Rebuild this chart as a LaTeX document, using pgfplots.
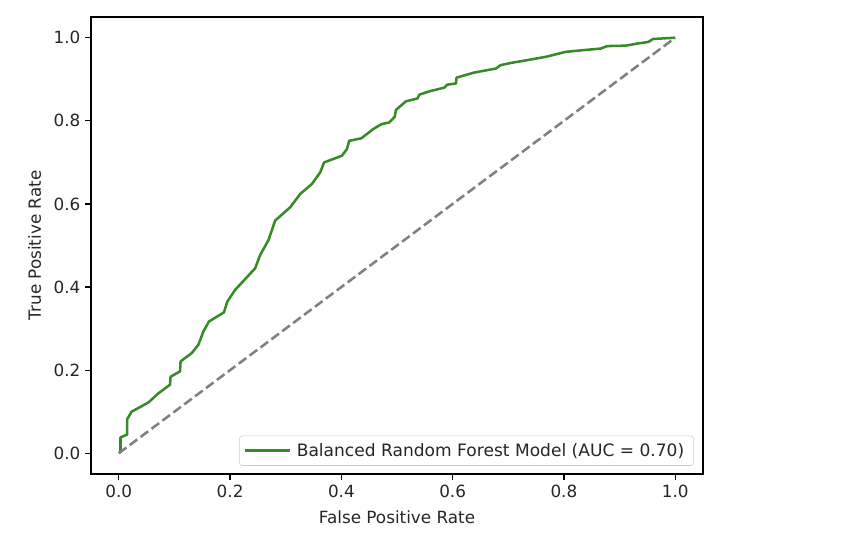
\documentclass[border=0pt]{standalone}
\usepackage{pgfplots}
\pgfplotsset{compat=1.18}
\usepackage{fontspec}
\setmainfont{DejaVu Sans}
\definecolor{rocgreen}{RGB}{55,138,40}
\definecolor{txtgray}{RGB}{38,38,38}

\begin{document}
\begin{tikzpicture}
\useasboundingbox (-68.25pt,-58.5pt) rectangle (579.75pt,355.5pt);
\begin{axis}[
  at={(0,0)}, anchor=south west,
  scale only axis,
  width=459pt, height=342.75pt,
  xmin=-0.05, xmax=1.05,
  ymin=-0.05, ymax=1.05,
  xtick={0,0.2,...,1.0},
  ytick={0,0.2,...,1.0},
  xticklabel style={/pgf/number format/.cd,fixed,fixed zerofill,precision=1},
  yticklabel style={/pgf/number format/.cd,fixed,fixed zerofill,precision=1},
  /pgf/number format/assume math mode=true,
  tick align=outside,
  tick pos=left,
  major tick length=4.5pt,
  tick style={black, line width=0.9pt},
  axis line style={black, line width=0.9pt},
  ticklabel style={font=\fontsize{12.6}{14}\selectfont, text=txtgray},
  xlabel={False Positive Rate},
  ylabel={True Positive Rate},
  label style={font=\fontsize{12.6}{14}\selectfont, text=txtgray},
  xlabel style={yshift=-3pt},
  ylabel style={yshift=2.5pt},
  legend style={font=\fontsize{12.8}{14}\selectfont, text=txtgray,
    draw=black!20, rounded corners=2pt, fill=white, fill opacity=0.8, text opacity=1,
    at={(0.985,0.018)}, anchor=south east,
    inner xsep=3pt, inner ysep=3.5pt},
  legend cell align=left,
  legend image code/.code={\draw[#1, line width=1.9pt] (0cm,0cm) -- (0.98cm,0cm);
    \path (0cm,0cm) -- (1.2cm,0cm);},
  legend style={nodes={inner xsep=4pt}},
]
\addplot[rocgreen, line width=1.9pt, line join=round] coordinates {
(0.000,0.000) (0.003,0.004) (0.003,0.038) (0.015,0.045) (0.015,0.082)
(0.023,0.100) (0.053,0.122) (0.071,0.144) (0.092,0.165) (0.093,0.184)
(0.110,0.197) (0.111,0.221) (0.131,0.241) (0.143,0.261) (0.152,0.293)
(0.162,0.317) (0.189,0.339) (0.195,0.365) (0.209,0.393) (0.227,0.419)
(0.245,0.445) (0.254,0.477) (0.269,0.513) (0.281,0.560) (0.308,0.592)
(0.326,0.624) (0.347,0.648) (0.362,0.676) (0.369,0.700) (0.401,0.716)
(0.410,0.732) (0.414,0.752) (0.436,0.758) (0.457,0.780) (0.472,0.792)
(0.486,0.796) (0.496,0.810) (0.498,0.826) (0.516,0.847) (0.537,0.854)
(0.540,0.863) (0.558,0.871) (0.585,0.880) (0.590,0.887) (0.606,0.890)
(0.607,0.904) (0.638,0.916) (0.678,0.926) (0.686,0.934) (0.707,0.940)
(0.725,0.944) (0.767,0.954) (0.803,0.966) (0.833,0.970) (0.866,0.974)
(0.878,0.980) (0.911,0.981) (0.932,0.986) (0.952,0.990) (0.960,0.997)
(0.998,1.000) (1.000,1.000)
};
\addlegendentry{Balanced Random Forest Model (AUC = 0.70)}
\addplot[gray, line width=1.9pt, dash pattern=on 7.1pt off 3.1pt, forget plot] coordinates {
(0,0) (1,1)
};
\end{axis}
\end{tikzpicture}
\end{document}
